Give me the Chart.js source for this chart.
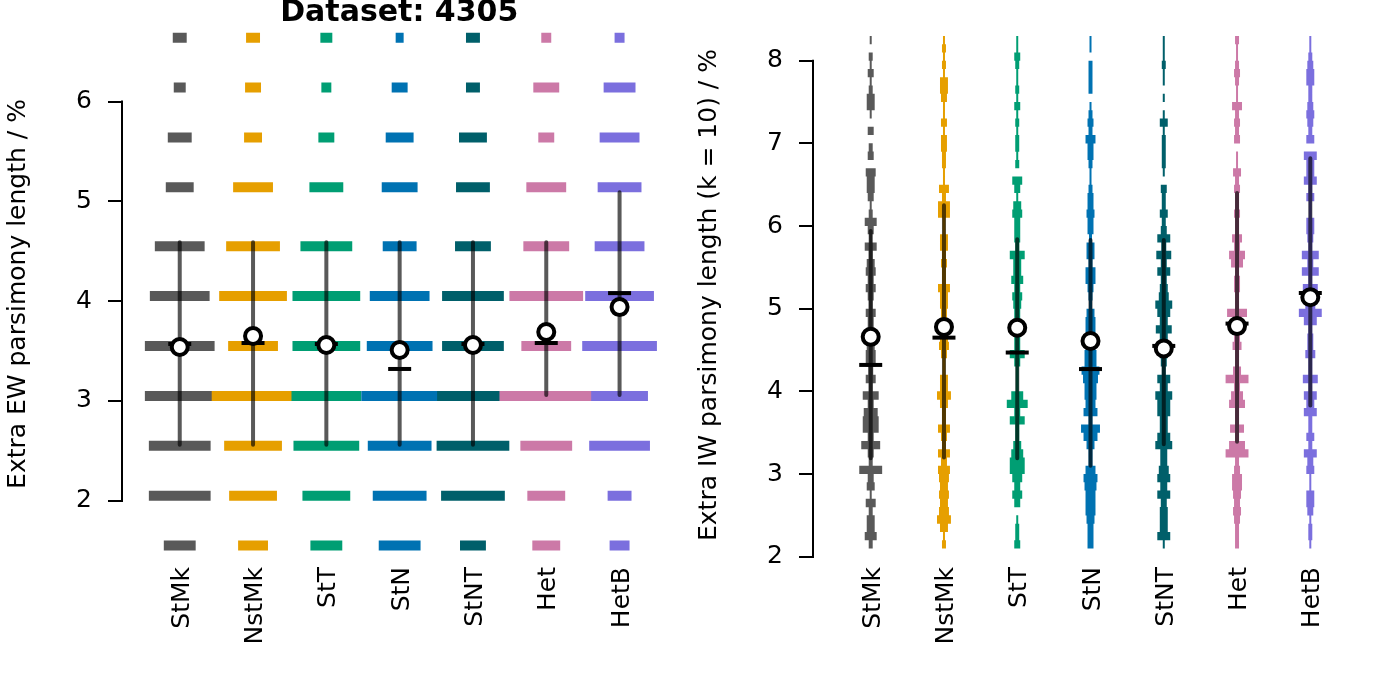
<!DOCTYPE html>
<html>
<head>
<meta charset="utf-8">
<script src="https://cdn.jsdelivr.net/npm/chart.js@4.4.1/dist/chart.umd.min.js"></script>
<style>
html, body { margin: 0; padding: 0; background: #fff; }
#wrap { position: relative; width: 1382px; height: 691px; overflow: hidden; background: #fff; }
canvas { position: absolute; top: 0; }
#c1 { left: 0; }
#c2 { left: 691px; }
</style>
</head>
<body>
<div id="wrap">
  <canvas id="c1" width="691" height="691"></canvas>
  <canvas id="c2" width="691" height="691"></canvas>
</div>
<script>
// ---------------- data ----------------
const CATEGORIES = ['StMk', 'NstMk', 'StT', 'StN', 'StNT', 'Het', 'HetB'];
const TITLE = 'Dataset: 4305';
const EW_AXIS_TITLE = 'Extra EW parsimony length / %';
const IW_AXIS_TITLE = 'Extra IW parsimony length (k = 10) / %';
const EW_TICKS = [2, 3, 4, 5, 6];
const IW_TICKS = [2, 3, 4, 5, 6, 7, 8];

// Left panel (EW): discrete score levels and violin widths per category
const EW_LEVELS = [1.55, 2.05, 2.55, 3.05, 3.55, 4.05, 4.55, 5.14, 5.64, 6.14, 6.64];
const EW_STMK  = [32, 62, 62, 70, 70, 60, 50, 28, 24, 12, 14];
const EW_NSTMK = [30, 48, 58, 83, 50, 68, 54, 40, 18, 16, 14];
const EW_STT   = [32, 48, 66, 70, 68, 68, 52, 34, 16, 10, 12];
const EW_STN   = [42, 54, 64, 77, 66, 60, 34, 36, 28, 16, 8];
const EW_STNT  = [26, 64, 73, 72, 62, 62, 36, 34, 28, 14, 14];
const EW_HET   = [28, 38, 52, 94, 50, 74, 46, 40, 16, 26, 10];
const EW_HETB  = [20, 24, 61, 57, 75, 69, 50, 44, 40, 32, 10];
const EW_MEAN   = [3.54, 3.65, 3.56, 3.51, 3.56, 3.69, 3.94];
const EW_MEDIAN = [3.57, 3.58, 3.57, 3.32, 3.57, 3.58, 4.08];
const EW_LOW    = [2.56, 2.56, 2.56, 2.56, 2.56, 3.06, 3.06];
const EW_HIGH   = [4.59, 4.59, 4.59, 4.59, 4.59, 4.59, 5.09];

// Right panel (IW): bin centres (top to bottom) and violin widths per category
const IW_LEVELS = [8.25, 8.15, 8.05, 7.95, 7.85, 7.75, 7.65, 7.55, 7.45, 7.35,
                   7.25, 7.15, 7.05, 6.95, 6.85, 6.75, 6.65, 6.55, 6.45, 6.35,
                   6.25, 6.15, 6.05, 5.95, 5.85, 5.75, 5.65, 5.55, 5.45, 5.35,
                   5.25, 5.15, 5.05, 4.95, 4.85, 4.75, 4.65, 4.55, 4.45, 4.35,
                   4.25, 4.15, 4.05, 3.95, 3.85, 3.75, 3.65, 3.55, 3.45, 3.35,
                   3.25, 3.15, 3.05, 2.95, 2.85, 2.75, 2.65, 2.55, 2.45, 2.35,
                   2.25, 2.15];
const IW_STMK  = [2,0,4,2,6,2,4,8,8,2, 0,6,0,4,6,0,10,8,8,6, 2,4,12,6,3,12,4,8,10,6, 10,6,4,10,6,6,6,8,10,10, 5,10,4,16,6,14,16,16,6,19, 6,4,23,6,8,2,10,4,8,8, 12,4];
const IW_NSTMK = [2,4,2,4,2,8,8,6,2,2, 6,2,6,6,4,4,2,2,10,4, 12,12,3,3,8,8,4,6,4,4, 12,8,8,6,6,6,8,10,6,3, 3,8,8,14,8,4,4,12,6,4, 12,6,12,10,8,10,8,10,14,8, 2,4];
const IW_STT   = [2,2,6,4,2,2,4,2,6,2, 4,2,4,4,2,4,0,10,6,2, 8,10,6,6,6,4,15,8,8,12, 6,10,8,6,6,6,6,6,15,6, 3,3,3,12,21,6,15,4,4,8, 12,15,15,10,6,10,6,0,2,4, 4,6];
const IW_STN   = [2,2,0,4,4,4,4,0,2,4, 6,4,10,6,6,4,2,2,4,6, 6,8,6,6,3,8,8,4,10,10, 6,4,3,8,10,10,10,10,12,12, 18,15,12,12,10,14,4,19,14,8, 4,4,10,14,12,10,10,10,8,6, 6,6];
const IW_STNT  = [2,2,2,4,2,2,0,2,0,2, 8,2,4,4,4,4,2,0,6,4, 4,8,4,6,13,5,15,6,13,6, 8,10,17,13,8,16,8,8,8,6, 4,13,8,17,13,13,8,8,13,17, 7,7,10,13,7,13,6,8,8,8, 13,2];
const IW_HET   = [4,2,2,4,6,4,2,2,10,4, 6,4,6,0,2,2,8,4,6,4, 4,6,4,4,10,6,16,12,4,6, 6,4,4,20,6,6,6,9,4,4, 8,23,6,12,16,4,4,14,4,16, 23,4,6,10,10,8,6,8,6,4, 4,4];
const IW_HETB  = [2,2,4,6,8,8,4,4,6,8, 6,4,8,0,13,8,8,13,4,8, 3,3,8,8,6,4,17,6,17,4, 15,10,10,23,13,4,6,6,10,4, 4,15,4,13,8,13,4,4,8,4, 13,6,8,2,2,8,8,6,2,4, 4,2];
const IW_MEAN   = [4.66, 4.78, 4.77, 4.61, 4.52, 4.79, 5.14];
const IW_MEDIAN = [4.32, 4.65, 4.47, 4.27, 4.55, 4.82, 5.19];
const IW_LOW    = [3.19, 3.20, 3.19, 3.10, 3.36, 3.39, 3.83];
const IW_HIGH   = [5.94, 6.25, 5.84, 5.83, 5.83, 6.40, 6.82];

const EW_WIDTHS = [EW_STMK, EW_NSTMK, EW_STT, EW_STN, EW_STNT, EW_HET, EW_HETB];
const IW_WIDTHS = [IW_STMK, IW_NSTMK, IW_STT, IW_STN, IW_STNT, IW_HET, IW_HETB];

// ---------------- style ----------------
const COLORS = ['#595959', '#E69F00', '#009E73', '#0072B2', '#005F6A', '#CC79A7', '#7B6FDE'];
const WIDTH_PER_X = 73.6;   // violin width units per one category step

Chart.defaults.font.family = "'DejaVu Sans', 'Liberation Sans', sans-serif";
Chart.defaults.color = '#000';

function violinPoints(levels, widths, idx) {
  const pts = [];
  levels.forEach((v, j) => {
    const w = widths[j];
    if (!w) return;
    const h = w / 2 / WIDTH_PER_X;
    pts.push({ x: idx - h, y: v }, { x: idx + h, y: v }, { x: idx, y: null });
  });
  return pts;
}
function whiskerPoints(lo, hi) {
  const pts = [];
  lo.forEach((l, i) => { pts.push({ x: i, y: l }, { x: i, y: hi[i] }, { x: i, y: null }); });
  return pts;
}
function markPoints(vals) { return vals.map((v, i) => ({ x: i, y: v })); }

const axisLinePlugin = {
  id: 'axisLine',
  afterDraw(chart) {
    const ys = chart.scales.y;
    const t = ys.ticks;
    const ctx = chart.ctx;
    const x = chart.chartArea.left - 1;
    ctx.save();
    ctx.strokeStyle = '#000';
    ctx.lineWidth = 2;
    ctx.lineCap = 'square';
    ctx.beginPath();
    ctx.moveTo(x, ys.getPixelForValue(t[0].value));
    ctx.lineTo(x, ys.getPixelForValue(t[t.length - 1].value));
    ctx.stroke();
    ctx.restore();
  }
};

function buildChart(id, o) {
  const datasets = [];
  o.widths.forEach((w, i) => {
    datasets.push({
      data: violinPoints(o.levels, w, i),
      borderColor: COLORS[i], borderWidth: o.barThickness, borderCapStyle: 'butt',
      pointRadius: 0, fill: false, tension: 0, clip: false, order: 20 - i
    });
  });
  datasets.push({
    data: whiskerPoints(o.low, o.high),
    borderColor: 'rgba(0,0,0,0.65)', borderWidth: 4, borderCapStyle: 'round',
    pointRadius: 0, fill: false, clip: false, order: 3
  });
  datasets.push({
    data: markPoints(o.median), showLine: false,
    pointStyle: 'line', pointRadius: 11.5, pointBorderWidth: 4, pointBorderColor: '#000',
    clip: false, order: 2
  });
  datasets.push({
    data: markPoints(o.mean), showLine: false,
    pointStyle: 'circle', pointRadius: 8, pointBorderWidth: 4,
    pointBorderColor: '#000', pointBackgroundColor: '#fff', clip: false, order: 1
  });

  return new Chart(document.getElementById(id), {
    type: 'line',
    data: { datasets },
    options: {
      responsive: false, animation: false, events: [], devicePixelRatio: 1,
      layout: { padding: o.padding },
      plugins: {
        legend: { display: false },
        tooltip: { enabled: false },
        title: o.title
      },
      scales: {
        x: {
          type: 'linear', min: o.xmin, max: o.xmax,
          afterBuildTicks: s => { s.ticks = CATEGORIES.map((_, i) => ({ value: i })); },
          afterFit: s => { s.height = o.xAxisHeight; },
          grid: { display: false, drawTicks: false }, border: { display: false },
          ticks: {
            autoSkip: false, minRotation: 90, maxRotation: 90, padding: o.xPad,
            labelOffset: 2.5,
            color: '#000', font: { size: 25 },
            callback: v => CATEGORIES[v]
          }
        },
        y: {
          type: 'linear', min: o.ymin, max: o.ymax,
          afterBuildTicks: s => { s.ticks = o.ticks.map(v => ({ value: v })); },
          afterFit: s => { s.width = 123; },
          grid: { display: true, drawOnChartArea: false, drawTicks: true, tickLength: 15, color: '#000', lineWidth: 2 },
          border: { display: false },
          ticks: { padding: 16, color: '#000', font: { size: 25 }, callback: v => String(v) },
          title: { display: true, text: o.yTitle, color: '#000', font: { size: 25 }, padding: { top: 3, bottom: 0 } }
        }
      }
    },
    plugins: [axisLinePlugin]
  });
}

buildChart('c1', {
  levels: EW_LEVELS, widths: EW_WIDTHS, barThickness: 10,
  mean: EW_MEAN, median: EW_MEDIAN, low: EW_LOW, high: EW_HIGH,
  ticks: EW_TICKS, yTitle: EW_AXIS_TITLE,
  xmin: -0.774, xmax: 6.763, ymin: 1.4559, ymax: 6.6864,
  padding: { left: 0, right: 14, top: 0, bottom: 0 },
  xAxisHeight: 136, xPad: 12,
  title: {
    display: true, text: TITLE, fullSize: false, color: '#000',
    font: { size: 30, weight: 'bold', lineHeight: 1.2 },
    padding: { top: -5, bottom: 2 }
  }
});

buildChart('c2', {
  levels: IW_LEVELS, widths: IW_WIDTHS, barThickness: 8.3,
  mean: IW_MEAN, median: IW_MEDIAN, low: IW_LOW, high: IW_HIGH,
  ticks: IW_TICKS, yTitle: IW_AXIS_TITLE,
  xmin: -0.774, xmax: 6.767, ymin: 1.9845, ymax: 8.3472,
  padding: { left: 0, right: 13, top: 32, bottom: 0 },
  xAxisHeight: 133, xPad: 9,
  title: { display: false }
});
</script>
</body>
</html>
